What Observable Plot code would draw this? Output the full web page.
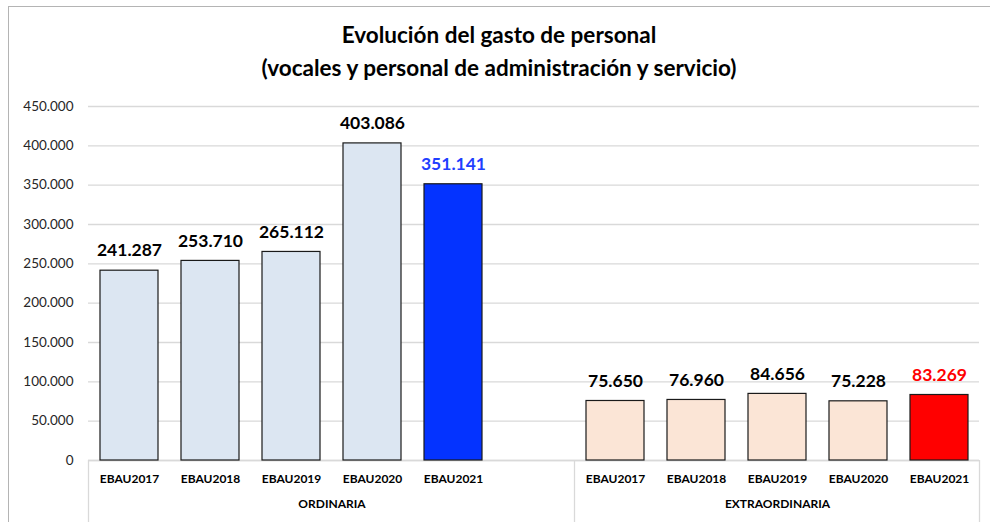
<!DOCTYPE html>
<html><head><meta charset="utf-8">
<script src="https://cdn.jsdelivr.net/npm/d3@7"></script>
<script src="https://cdn.jsdelivr.net/npm/@observablehq/plot@0.6"></script>
<style>
body{margin:0;background:#fff;width:990px;height:522px;overflow:hidden;position:relative;font-family:Lato,"Open Sans",sans-serif}
#frame{position:absolute;left:8px;top:6px;right:-5px;bottom:-5px;border-top:1.5px solid #b4b4b4;border-left:1.5px solid #b4b4b4}
#title{position:absolute;left:8px;width:982px;top:18px;text-align:center;font-weight:bold;font-size:22.5px;line-height:33px;color:#000}
#chart{position:absolute;left:0;top:96px}
</style></head><body>
<div id="frame"></div>
<div id="title">Evolución del gasto de personal<br>(vocales y personal de administración y servicio)</div>
<div id="chart"></div>
<script>
const groups = ["ORDINARIA", "EXTRAORDINARIA"];
const ordCategories = ["EBAU2017", "EBAU2018", "EBAU2019", "EBAU2020", "EBAU2021"];
const ordValues = [241287, 253710, 265112, 403086, 351141];
const ordColors = ["#dce6f2", "#dce6f2", "#dce6f2", "#dce6f2", "#0433ff"];
const ordLabelColors = ["#000", "#000", "#000", "#000", "#1f3fff"];
const extCategories = ["EBAU2017", "EBAU2018", "EBAU2019", "EBAU2020", "EBAU2021"];
const extValues = [75650, 76960, 84656, 75228, 83269];
const extColors = ["#fbe5d6", "#fbe5d6", "#fbe5d6", "#fbe5d6", "#ff0000"];
const extLabelColors = ["#000", "#000", "#000", "#000", "#ff0000"];
const yTicks = [0, 50000, 100000, 150000, 200000, 250000, 300000, 350000, 400000, 450000];

const fmt = d3.formatLocale({decimal: ",", thousands: ".", grouping: [3], currency: ["", "€"]}).format(",d");

const data = [
  ...ordCategories.map((c, i) => ({key: groups[0] + "|" + c, value: ordValues[i], color: ordColors[i], labelColor: ordLabelColors[i]})),
  ...extCategories.map((c, i) => ({key: groups[1] + "|" + c, value: extValues[i], color: extColors[i], labelColor: extLabelColors[i]}))
];
const domain = [
  ...ordCategories.map(c => groups[0] + "|" + c),
  groups[0] + "|",
  ...extCategories.map(c => groups[1] + "|" + c)
];

const W = 990, H = 426, mL = 88, mR = 11, mT = 10, mB = 62;
const step = (W - mL - mR) / domain.length;

const plot = Plot.plot({
  width: W, height: H, marginLeft: mL, marginRight: mR, marginTop: mT, marginBottom: mB,
  style: {fontFamily: "Lato, 'Open Sans', sans-serif", background: "transparent", overflow: "visible"},
  x: {domain, paddingInner: 0.284, paddingOuter: 0.142, axis: null, label: null},
  y: {domain: [0, 450000], axis: null, label: null},
  color: {type: "identity"},
  marks: [
    Plot.gridY(yTicks, {stroke: "#d9d9d9", strokeOpacity: 1, strokeWidth: 1.3}),
    Plot.axisY(yTicks, {tickFormat: fmt, tickSize: 0, tickPadding: 15, fontSize: 13.5, fill: "#262626", label: null}),
    Plot.ruleY([0], {stroke: "#d9d9d9", strokeWidth: 1.3}),
    Plot.barY(data, {x: "key", y: "value", fill: "color", stroke: "#1a1a1a", strokeWidth: 1.2}),
    Plot.text(data, {x: "key", y: "value", text: d => fmt(d.value), fill: "labelColor", dy: -20, fontSize: 17.5, fontWeight: "bold"}),
    Plot.axisX({tickFormat: k => k.split("|")[1], tickSize: 0, tickPadding: 14, fontSize: 12, fontWeight: "bold", fill: "#000", label: null}),
    Plot.text([groups[0]], {x: () => groups[0] + "|EBAU2020", frameAnchor: "bottom", dx: -step / 2, dy: 47, text: d => d, fontSize: 12, fontWeight: "bold"}),
    Plot.text([groups[1]], {x: () => groups[1] + "|EBAU2019", frameAnchor: "bottom", dy: 47, text: d => d, fontSize: 12, fontWeight: "bold"})
  ]
});

// category-axis box separators derived from the x scale
const xs = plot.scale("x");
const slotStart = k => xs.apply(k) - (xs.step - xs.bandwidth) / 2;
const seps = [slotStart(domain[0]), slotStart(groups[1] + "|" + extCategories[0]), slotStart(domain[domain.length - 1]) + xs.step];
d3.select(plot).append("g").selectAll("line").data(seps).join("line")
  .attr("x1", d => d).attr("x2", d => d)
  .attr("y1", H - mB).attr("y2", H)
  .attr("stroke", "#d9d9d9").attr("stroke-width", 1.3);

document.getElementById("chart").append(plot);
</script>
</body></html>
